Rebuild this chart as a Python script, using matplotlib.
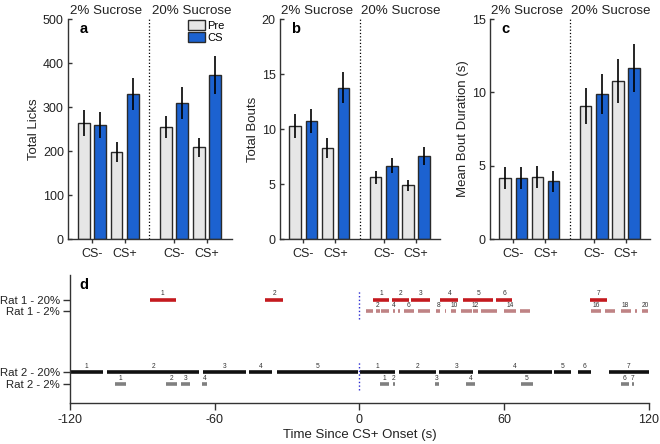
import matplotlib
matplotlib.use("Agg")
import matplotlib.pyplot as plt
from matplotlib.patches import Patch
import numpy as np

plt.rcParams['font.family'] = ['Liberation Sans', 'DejaVu Sans']
plt.rcParams['axes.unicode_minus'] = False

# ---------------- data: panels a-c ----------------
groups = ['2% Sucrose', '20% Sucrose']
cs_labels = ['CS-', 'CS+']
phases = ['Pre', 'CS']
# order: 2% CS-, 2% CS+, 20% CS-, 20% CS+
licks_pre = [264, 198, 255, 208]
licks_pre_err = [29, 22, 25, 21]
licks_cs = [259, 329, 309, 373]
licks_cs_err = [30, 36, 36, 43]

bouts_pre = [10.27, 8.24, 5.6, 4.9]
bouts_pre_err = [1.05, 0.9, 0.6, 0.5]
bouts_cs = [10.73, 13.76, 6.67, 7.55]
bouts_cs_err = [1.1, 1.4, 0.68, 0.78]

dur_pre = [4.14, 4.25, 9.09, 10.8]
dur_pre_err = [0.74, 0.74, 1.23, 1.5]
dur_cs = [4.14, 3.93, 9.86, 11.64]
dur_cs_err = [0.74, 0.73, 1.36, 1.64]

# ---------------- data: panel d (bout start/end, s) ----------------
row_names = ['Rat 1 - 20%', 'Rat 1 - 2%', 'Rat 2 - 20%', 'Rat 2 - 2%']

rat1_20_pre = [(-87, -76), (-39, -31.5)]
rat1_20_post = [(5.5, 12.4), (13.7, 20.4), (21.4, 29.3), (33.6, 41.0),
                (43.1, 55.4), (56.7, 63.4), (95.7, 102.5)]
rat1_2_pre = []
rat1_2_post = [(2.8, 5.8), (6.8, 8.6), (9.0, 12.2), (13.8, 14.9), (16.2, 16.8),
               (18.6, 22.5), (24.2, 29.2), (31.7, 33.6), (35.4, 36.0), (38.2, 40.2),
               (42.1, 46.5), (47.3, 49.0), (50.6, 57.0), (60.0, 65.0), (66.8, 70.9),
               (96.0, 100.3), (102.0, 106.1), (108.3, 112.5), (114.2, 115.0), (117.0, 119.8)]
rat2_20_pre = [(-120, -106.2), (-104.7, -66.3), (-65.0, -46.9), (-45.8, -36.1), (-34.2, -0.7)]
rat2_20_post = [(0.3, 14.9), (16.3, 31.7), (33.2, 47.2), (49.0, 79.7),
                (80.7, 87.9), (90.7, 96.2), (103.4, 120.0)]
rat2_2_pre = [(-101.3, -96.9), (-80.2, -75.7), (-74.0, -70.4), (-65.1, -63.2)]
rat2_2_post = [(8.4, 12.2), (13.8, 14.6), (31.2, 33.2), (44.2, 47.8),
               (67.2, 71.8), (108.3, 111.7), (113.1, 113.7)]

# ---------------- styling ----------------
pre_color = '#e6e6e6'
cs_color = '#1c62d0'
edge = '#2a2a2a'
txt = '#222222'

fig = plt.figure(figsize=(6.6, 4.44), dpi=100)

def style_axes(ax):
    for s in ['top', 'right']:
        ax.spines[s].set_visible(False)
    for s in ['left', 'bottom']:
        ax.spines[s].set_linewidth(1.0)
        ax.spines[s].set_color('#333333')
    ax.tick_params(colors='#333333', labelcolor=txt, labelsize=9, width=1.0, length=4)

def bar_panel(rect, pre, pre_err, cs, cs_err, ymax, yticks, ylabel, letter, legend=False):
    ax = fig.add_axes(rect)
    style_axes(ax)
    x_pre = []
    x_cs = []
    for g in range(len(groups)):
        for c in range(len(cs_labels)):
            x_pre.append(5 * g + 2 * c)
            x_cs.append(5 * g + 2 * c + 1)
    x_pre = np.array(x_pre)
    x_cs = np.array(x_cs)
    ax.bar(x_pre, pre, width=0.72, color=pre_color, edgecolor=edge, linewidth=1.0, zorder=2)
    ax.bar(x_cs, cs, width=0.72, color=cs_color, edgecolor=edge, linewidth=1.0, zorder=2)
    ax.errorbar(x_pre, pre, yerr=pre_err, fmt='none', ecolor='black', elinewidth=1.2, capsize=0, zorder=3)
    ax.errorbar(x_cs, cs, yerr=cs_err, fmt='none', ecolor='black', elinewidth=1.2, capsize=0, zorder=3)
    ax.axvline(4, color='black', linestyle=':', linewidth=0.9)
    ax.set_xlim(-0.95, 9.0)
    ax.set_ylim(0, ymax)
    ax.set_yticks(yticks)
    ax.tick_params(axis='y', direction='in', length=3, pad=3)
    ticks = (x_pre + x_cs) / 2.0
    ax.set_xticks(ticks)
    ax.set_xticklabels(cs_labels * len(groups))
    ax.tick_params(axis='x', length=3)
    ax.set_ylabel(ylabel, fontsize=9.5, color=txt, labelpad=2)
    for g, name in enumerate(groups):
        ax.text(5 * g + 1.35 + 0.2 * g, 1.01, name, transform=ax.get_xaxis_transform(),
                ha='center', va='bottom', fontsize=9.6, color=txt)
    ax.text(0.07, 0.955, letter, transform=ax.transAxes, fontsize=10.5,
            fontweight='bold', ha='left', va='center')
    if legend:
        handles = [Patch(facecolor=pre_color, edgecolor=edge, linewidth=1.0),
                   Patch(facecolor=cs_color, edgecolor=edge, linewidth=1.0)]
        ax.legend(handles, phases, loc='upper right', bbox_to_anchor=(0.99, 1.02),
                  frameon=False, fontsize=8, handlelength=1.55, handleheight=0.95,
                  handletextpad=0.15, labelspacing=0.15, borderaxespad=0.1)
    return ax

bar_panel([0.103, 0.4617, 0.248, 0.4955], licks_pre, licks_pre_err, licks_cs, licks_cs_err,
          500, [0, 100, 200, 300, 400, 500], 'Total Licks', 'a', legend=True)
bar_panel([0.4242, 0.4617, 0.2424, 0.4955], bouts_pre, bouts_pre_err, bouts_cs, bouts_cs_err,
          20, [0, 5, 10, 15, 20], 'Total Bouts', 'b')
bar_panel([0.7424, 0.4617, 0.2424, 0.4955], dur_pre, dur_pre_err, dur_cs, dur_cs_err,
          15, [0, 5, 10, 15], 'Mean Bout Duration (s)', 'c')

# ---------------- panel d ----------------
axd = fig.add_axes([0.106, 0.0923, 0.877, 0.288])
style_axes(axd)
row_y = [7.15, 6.15, 1.0, 0.0]
rows = [
    (rat1_20_pre, rat1_20_post, '#c41a1f', 'all'),
    (rat1_2_pre, rat1_2_post, '#bf8385', 'even'),
    (rat2_20_pre, rat2_20_post, '#111111', 'all'),
    (rat2_2_pre, rat2_2_post, '#808080', 'all'),
]
for (pre_b, post_b, col, lab), y in zip(rows, row_y):
    for bouts in (pre_b, post_b):
        for i, (s, e) in enumerate(bouts):
            axd.plot([s, e], [y, y], color=col, linewidth=2.6, solid_capstyle='butt')
            n = i + 1
            if lab == 'all' or n % 2 == 0:
                axd.annotate(str(n), ((s + e) / 2.0, y), xytext=(0, 1.6),
                             textcoords='offset points', ha='center', va='bottom',
                             fontsize=4.8, color='#333333')
axd.plot([0, 0], [5.55, 7.95], color='#2a2ad0', linestyle=':', linewidth=1.0)
axd.plot([0, 0], [-0.55, 1.9], color='#2a2ad0', linestyle=':', linewidth=1.0)
axd.set_xlim(-120, 120)
axd.set_ylim(-1.62, 9.23)
axd.set_xticks([-120, -60, 0, 60, 120])
axd.set_yticks(row_y)
axd.set_yticklabels(row_names)
axd.tick_params(axis='y', labelsize=8.2, length=5, pad=2)
axd.tick_params(axis='x', length=5, pad=3)
axd.set_xlabel('Time Since CS+ Onset (s)', fontsize=9.5, color=txt, labelpad=2)
axd.text(0.017, 0.92, 'd', transform=axd.transAxes, fontsize=10.5,
         fontweight='bold', ha='left', va='center')

fig.savefig('out.png', dpi=100)
